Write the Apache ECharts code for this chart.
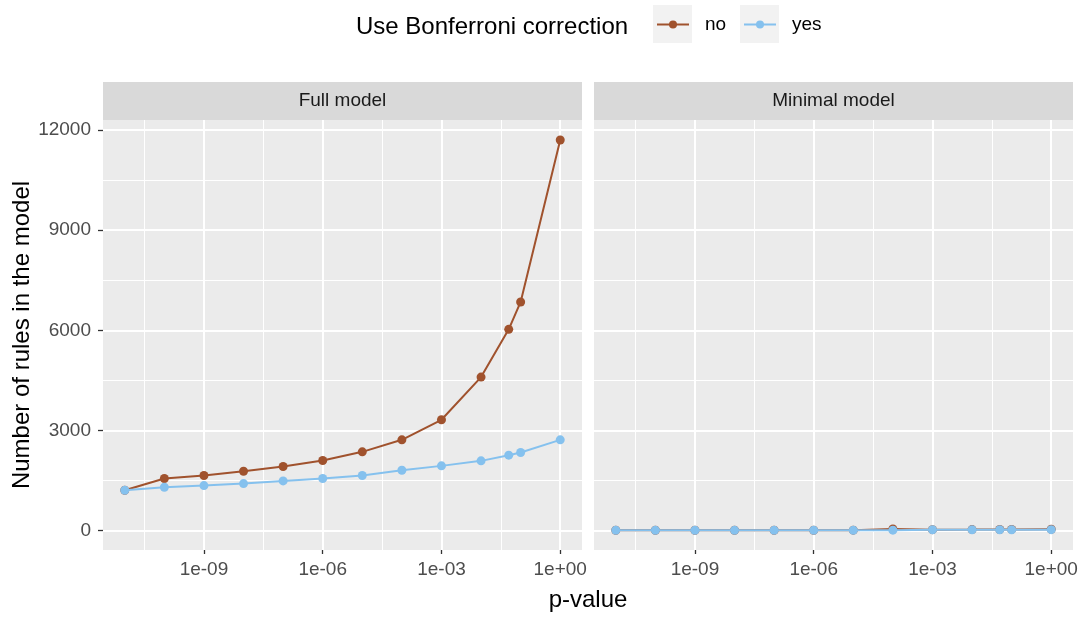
<!DOCTYPE html>
<html>
<head>
<meta charset="utf-8">
<script src="https://cdn.jsdelivr.net/npm/echarts@6/dist/echarts.min.js"></script>
<style>
html,body{margin:0;padding:0;background:#fff;}
#main{width:1084px;height:618px;}
</style>
</head>
<body>
<div id="main"></div>
<script>
// ---- data ----
const pValues = [1e-11, 1e-10, 1e-9, 1e-8, 1e-7, 1e-6, 1e-5, 1e-4, 1e-3, 1e-2, 0.05, 0.1, 1];
const fullNo  = [1210, 1560, 1650, 1780, 1920, 2100, 2360, 2720, 3320, 4600, 6030, 6850, 11700];
const fullYes = [1210, 1300, 1350, 1410, 1490, 1560, 1650, 1810, 1940, 2090, 2260, 2340, 2720];
const minNo   = [12, 12, 12, 12, 12, 13, 15, 50, 30, 32, 35, 36, 40];
const minYes  = [10, 10, 10, 10, 10, 10, 10, 15, 25, 25, 28, 28, 30];
const panels = ['Full model', 'Minimal model'];
const seriesNames = ['no', 'yes'];
const xTickExp = [-9, -6, -3, 0];
const xTickLabels = ['1e-09', '1e-06', '1e-03', '1e+00'];
const xMinorExp = [-10.5, -7.5, -4.5, -1.5];
const yTicks = [0, 3000, 6000, 9000, 12000];
const yMinor = [1500, 4500, 7500, 10500];

// ---- styling ----
const FONT = 'Liberation Sans, Arial, sans-serif';
const colors = {no: '#A0522D', yes: '#85C1EE'};
const gridPos = [{left: 103, top: 120, width: 479, height: 430}, {left: 594, top: 120, width: 479, height: 430}];
const X_MIN = -11.55, X_MAX = 0.55, Y_MIN = -580, Y_MAX = 12300;

function toPts(vals) { return pValues.map((p, i) => [Math.log10(p), vals[i]]); }

const xAxes = [], yAxes = [];
// major axes: index 0,1 ; minor axes: index 2,3
[0, 1].forEach(g => {
  xAxes[g] = {
    type: 'value', gridIndex: g, min: X_MIN, max: X_MAX, position: 'bottom',
    axisLine: {show: false, onZero: false},
    axisTick: {show: true, length: 4, customValues: xTickExp, lineStyle: {color: '#333333', width: 1.3}},
    axisLabel: {show: true, customValues: xTickExp, margin: 10, color: '#4D4D4D', fontSize: 19, fontFamily: FONT,
      formatter: v => xTickLabels[xTickExp.indexOf(Math.round(v))] || ''},
    splitLine: {show: true, lineStyle: {color: '#FFFFFF', width: 2}}
  };
  xAxes[g + 2] = {
    type: 'value', gridIndex: g, min: X_MIN, max: X_MAX, position: 'top',
    axisLine: {show: false, onZero: false},
    axisTick: {show: false, customValues: xMinorExp},
    axisLabel: {show: false, customValues: xMinorExp},
    splitLine: {show: true, lineStyle: {color: '#FFFFFF', width: 1}}
  };
  yAxes[g] = {
    type: 'value', gridIndex: g, min: Y_MIN, max: Y_MAX, position: 'left',
    axisLine: {show: false, onZero: false},
    axisTick: {show: g === 0, length: 5, customValues: yTicks, lineStyle: {color: '#333333', width: 1.3}},
    axisLabel: {show: g === 0, customValues: yTicks, margin: 12, color: '#4D4D4D', fontSize: 19, fontFamily: FONT,
      formatter: v => String(Math.round(v))},
    splitLine: {show: true, lineStyle: {color: '#FFFFFF', width: 2}},
    name: g === 0 ? 'Number of rules in the model' : '',
    nameLocation: 'middle', nameGap: 64,
    nameTextStyle: {fontSize: 24, color: '#000', fontFamily: FONT}
  };
  yAxes[g + 2] = {
    type: 'value', gridIndex: g, min: Y_MIN, max: Y_MAX, position: 'right',
    axisLine: {show: false, onZero: false},
    axisTick: {show: false, customValues: yMinor},
    axisLabel: {show: false, customValues: yMinor},
    splitLine: {show: true, lineStyle: {color: '#FFFFFF', width: 1}}
  };
});

function mkSeries(name, vals, g) {
  return {
    type: 'line', name: name, xAxisIndex: g, yAxisIndex: g,
    data: toPts(vals), symbol: 'circle', symbolSize: 9, showSymbol: true,
    itemStyle: {color: colors[name]},
    lineStyle: {color: colors[name], width: 2},
    emphasis: {disabled: true}, z: name === 'yes' ? 3 : 2
  };
}

const series = [
  mkSeries('no', fullNo, 0), mkSeries('yes', fullYes, 0),
  mkSeries('no', minNo, 1), mkSeries('yes', minYes, 1)
];

const graphics = [];
panels.forEach((t, g) => {
  const gp = gridPos[g];
  graphics.push({type: 'rect', shape: {x: gp.left, y: 82, width: gp.width, height: 38}, style: {fill: '#D9D9D9'}, silent: true});
  graphics.push({type: 'text', x: gp.left + gp.width / 2, y: 101,
    style: {text: t, fill: '#1A1A1A', font: '19px ' + FONT, textAlign: 'center', textVerticalAlign: 'middle'}});
});
// x-axis title
graphics.push({type: 'text', x: 588, y: 600,
  style: {text: 'p-value', fill: '#000', font: '24px ' + FONT, textAlign: 'center', textVerticalAlign: 'middle'}});
// legend title and key backgrounds
graphics.push({type: 'text', x: 356, y: 27,
  style: {text: 'Use Bonferroni correction', fill: '#000', font: '24px ' + FONT, textAlign: 'left', textVerticalAlign: 'middle'}});
graphics.push({type: 'rect', shape: {x: 653, y: 5, width: 39, height: 38}, style: {fill: '#F2F2F2'}, z: -1});
graphics.push({type: 'rect', shape: {x: 740, y: 5, width: 39, height: 38}, style: {fill: '#F2F2F2'}, z: -1});

const legendCommon = {
  orient: 'horizontal', top: 15, padding: 0, itemWidth: 32, itemHeight: 10, selectedMode: false,
  textStyle: {fontSize: 19, color: '#000', fontFamily: FONT, padding: [0, 0, 0, 11]}
};

const option = {
  animation: false,
  backgroundColor: '#FFFFFF',
  grid: gridPos.map(gp => Object.assign({show: true, backgroundColor: '#EBEBEB', borderWidth: 0, containLabel: false}, gp)),
  xAxis: xAxes,
  yAxis: yAxes,
  legend: [
    Object.assign({left: 656, data: [seriesNames[0]]}, legendCommon),
    Object.assign({left: 743, data: [seriesNames[1]]}, legendCommon)
  ],
  graphic: graphics,
  series: series
};

const chart = echarts.init(document.getElementById('main'), null, {renderer: 'canvas'});
chart.setOption(option);
</script>
</body>
</html>
